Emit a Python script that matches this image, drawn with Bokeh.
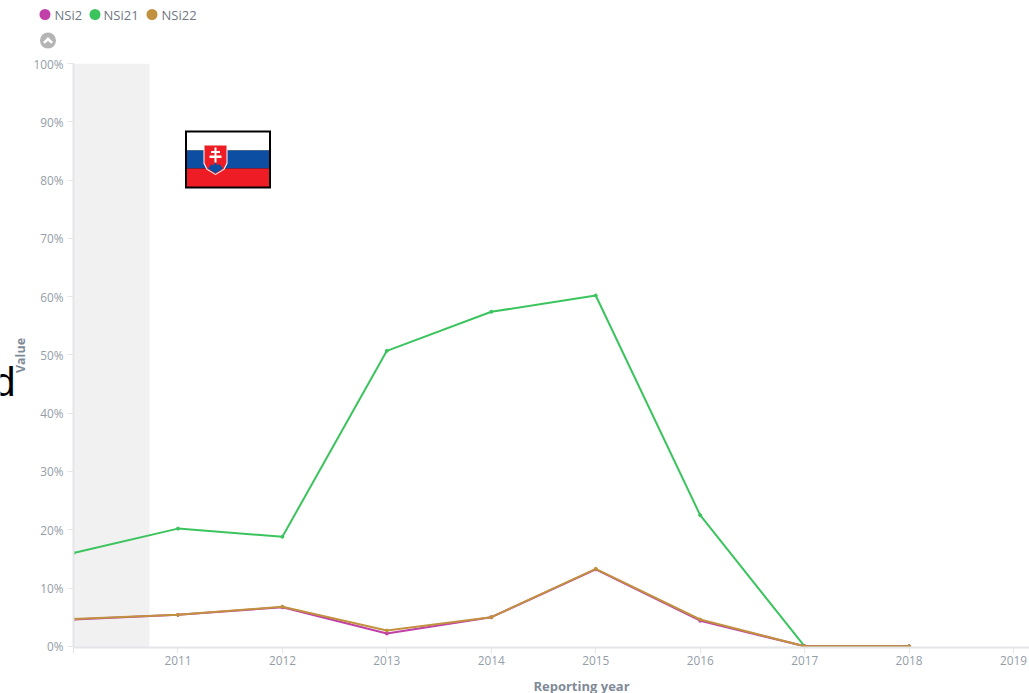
from bokeh.plotting import figure
from bokeh.embed import file_html
from bokeh.resources import INLINE
from bokeh.core.properties import value
from bokeh.models import Range1d, PrintfTickFormatter, FixedTicker

years = [2010, 2011, 2012, 2013, 2014, 2015, 2016, 2017, 2018]
nsi2 = [4.6, 5.4, 6.7, 2.2, 5.0, 13.2, 4.4, 0.0, 0.0]
nsi21 = [16.0, 20.2, 18.8, 50.7, 57.4, 60.2, 22.5, 0.0, 0.0]
nsi22 = [4.7, 5.4, 6.8, 2.7, 5.0, 13.3, 4.6, 0.0, 0.0]
series_names = ["NSi2", "NSi21", "NSi22"]
series_colors = ["#c13fa8", "#3bc45e", "#c1913f"]
x_ticks = list(range(2010, 2020))
y_ticks = list(range(0, 101, 10))

W, H = 1029, 693
L, R, T, B = 73, 1029, 63, 647
PX_X = 104.45


def dx(px):
    return 2010 + (px - L) / PX_X


p = figure(width=W, height=H, output_backend="svg", toolbar_location=None,
           x_range=Range1d(2010, dx(R)), y_range=Range1d(-0.2, 100),
           min_border_left=L, min_border_right=0, min_border_top=T, min_border_bottom=H - B,
           outline_line_color=None, background_fill_color="white")
p.grid.visible = False

TICK = "#949da8"
AXIS = "#e3e5e8"
for ax in (p.xaxis[0], p.yaxis[0]):
    ax.axis_line_color = AXIS
    ax.axis_line_width = 2
    ax.major_tick_line_color = AXIS
    ax.major_tick_line_width = 1
    ax.major_tick_out = 6
    ax.major_tick_in = 0
    ax.minor_tick_line_color = None
    ax.major_label_text_color = TICK
    ax.major_label_text_font = "Open Sans"
    ax.major_label_text_font_size = "11.8px"
p.xaxis[0].ticker = FixedTicker(ticks=x_ticks)
p.xaxis[0].major_label_overrides = {2010: ""}
p.xaxis[0].major_label_standoff = 2
p.yaxis[0].ticker = FixedTicker(ticks=y_ticks)
p.yaxis[0].formatter = PrintfTickFormatter(format="%d%%")
p.yaxis[0].major_label_standoff = 4
p.yaxis[0].axis_label = "Value"
p.yaxis[0].axis_label_text_font = "Open Sans"
p.yaxis[0].axis_label_text_font_style = "bold"
p.yaxis[0].axis_label_text_font_size = "12.5px"
p.yaxis[0].axis_label_text_color = "#7f8a98"
p.yaxis[0].axis_label_standoff = 2

# shaded band
p.quad(left=[2010], right=[dx(149)], bottom=[-0.2], top=[100], fill_color="#f1f1f1", line_color=None)

# series
for vals, name, col in zip([nsi21, nsi2, nsi22],
                           [series_names[1], series_names[0], series_names[2]],
                           [series_colors[1], series_colors[0], series_colors[2]]):
    p.line(years, vals, line_color=col, line_width=2, name=name)
    p.scatter(years, vals, size=3, fill_color=col, line_color=col, name=name)

# transparent overlay in page pixels, for everything that lies outside the main frame
ov = figure(width=W, height=H, output_backend="svg", toolbar_location=None,
            x_range=Range1d(0, W), y_range=Range1d(H, 0),
            min_border=0, outline_line_color=None, x_axis_type=None, y_axis_type=None,
            background_fill_alpha=0, border_fill_alpha=0)
ov.grid.visible = False
ov.styles = {"margin-top": f"-{H}px"}


def rect(x0, x1, y0, y1, col):
    ov.quad(left=[x0], right=[x1], top=[y0], bottom=[y1], fill_color=col, line_color=None)


def poly(pts, col):
    ov.patch([a for a, _ in pts], [b for _, b in pts], fill_color=col, line_color=None)


def text(s, x, y, font, size, col, style="normal", align="left", base="middle"):
    ov.text([x], [y], text=[s], text_font=value(font), text_font_size=value(size), text_color=col,
            text_font_style=style, text_align=align, text_baseline=base)


# legend
legend_dot_x = [44.5, 94.5, 151.5]
legend_text_x = [54, 103, 161]
for name, col, cx, tx in zip(series_names, series_colors, legend_dot_x, legend_text_x):
    ov.scatter([cx], [14], size=11, fill_color=col, line_color=None)
    text(name, tx, 14, "Open Sans", "13px", "#6f7782")

# collapse button
ov.scatter([47.5], [40], size=16, fill_color="#b4b4b4", line_color=None)
poly([(42.5, 41.5), (47.5, 36.5), (52.5, 41.5), (50.5, 43.2), (47.5, 40.2), (44.5, 43.2)], "#ffffff")

# flag
rect(184.5, 270.5, 130, 188, "#000000")
rect(186.5, 268.5, 132, 150, "#ffffff")
rect(186.5, 268.5, 150, 168, "#0b4ea2")
rect(186.5, 268.5, 168, 186, "#ee1c25")
poly([(203, 144), (227, 144), (227, 163), (224, 169), (215, 174.5), (206, 169), (203, 163)], "#ffffff")
poly([(204, 145), (226, 145), (226, 162.5), (223, 168.5), (215, 173.5), (207, 168.5), (204, 162.5)], "#ee1c25")
poly([(207.5, 168), (211, 163.5), (213, 165), (215, 161.5), (217, 165), (219, 163.5), (222.5, 168), (215, 172.8)], "#0b4ea2")
rect(214, 216, 147, 162, "#ffffff")
rect(210.5, 219.5, 150.5, 152.5, "#ffffff")
rect(209, 221, 155, 157.5, "#ffffff")

# clipped stray text and x title
text("d", 15, 381, "Liberation Sans", "40px", "#000000", align="right", base="alphabetic")
text("Reporting year", 581, 685, "Open Sans", "13px", "#7f8a98", style="bold", align="center")

open("out.html", "w").write(file_html((p, ov), INLINE))
